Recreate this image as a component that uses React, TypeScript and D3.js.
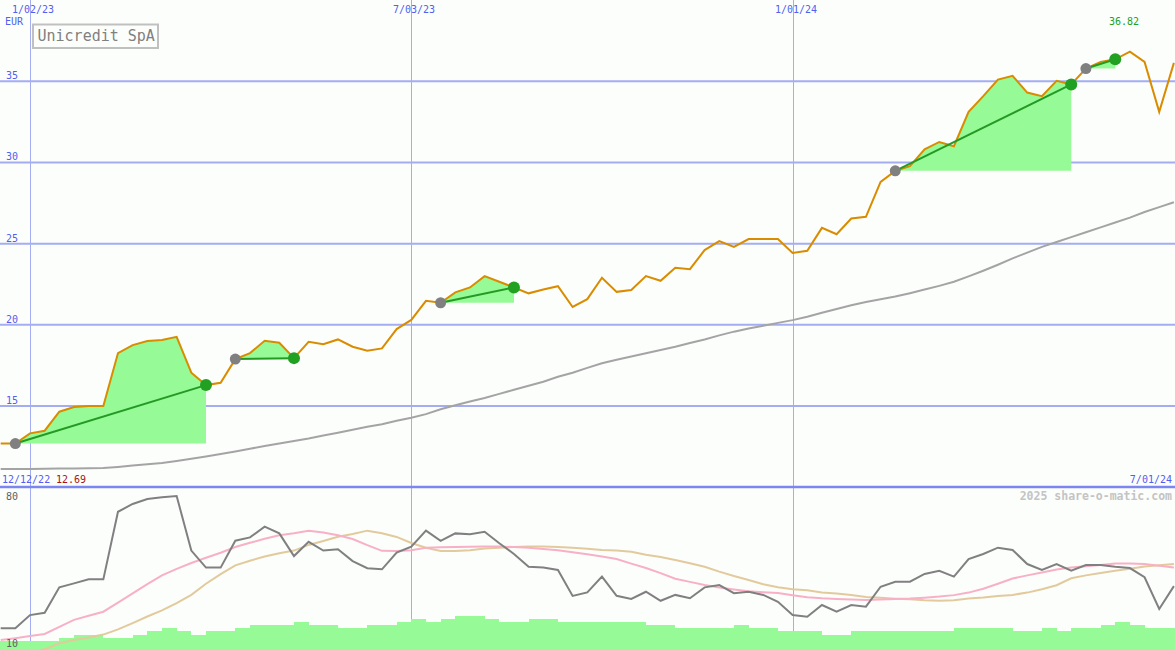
import React from 'react';
import * as d3 from 'd3';

const W = 1175;
const H = 650;

// Weekly sample dates (Mondays), 19 Dec 2022 .. 1 Jul 2024
const weeks: Date[] = d3.utcMonday.range(new Date(Date.UTC(2022, 11, 19)), new Date(Date.UTC(2024, 6, 2)));

// Weekly close (EUR)
const price = [
  12.69, 12.69, 13.32, 13.48, 14.65, 14.94, 15.0, 15.0, 18.26, 18.75,
  19.0, 19.06, 19.26, 17.05, 16.29, 16.43, 17.89, 18.26, 19.02, 18.9,
  17.95, 18.96, 18.8, 19.1, 18.65, 18.4, 18.55, 19.74, 20.3, 21.48,
  21.36, 22.0, 22.3, 23.0, 22.65, 22.3, 21.94, 22.18, 22.38, 21.1,
  21.58, 22.9, 22.03, 22.14, 23.0, 22.71, 23.51, 23.43, 24.6, 25.15,
  24.8, 25.28, 25.28, 25.28, 24.43, 24.56, 25.97, 25.58, 26.55, 26.65,
  28.8, 29.48, 29.77, 30.8, 31.26, 31.0, 33.11, 34.08, 35.1, 35.33,
  34.3, 34.08, 35.02, 34.8, 35.78, 36.19, 36.35, 36.82, 36.19, 33.11,
  36.13,
];

// Long moving average of price
const priceMA = [
  11.12, 11.12, 11.13, 11.14, 11.15, 11.16, 11.17, 11.18, 11.25, 11.34,
  11.42, 11.5, 11.62, 11.75, 11.9, 12.05, 12.2, 12.37, 12.54, 12.7,
  12.85, 13.0, 13.18, 13.36, 13.54, 13.72, 13.88, 14.1, 14.28, 14.5,
  14.8, 15.05, 15.28, 15.5, 15.75, 16.0, 16.25, 16.5, 16.8, 17.05,
  17.35, 17.63, 17.85, 18.05, 18.25, 18.45, 18.65, 18.88, 19.1, 19.35,
  19.58, 19.78, 19.95, 20.12, 20.29, 20.5, 20.74, 20.98, 21.2, 21.4,
  21.58, 21.74, 21.95, 22.17, 22.4, 22.65, 22.98, 23.33, 23.7, 24.09,
  24.45, 24.8, 25.1, 25.4, 25.7, 26.0, 26.3, 26.6, 26.95, 27.25,
  27.55,
];

// Weekly volume (millions)
const volume = [
  3.3, 3.3, 3.3, 3.3, 4.4, 5.5, 5.5, 4.4, 4.4, 5.5,
  7.0, 8.1, 7.0, 5.5, 7.0, 7.0, 8.1, 9.2, 9.2, 9.2,
  10.3, 9.2, 9.2, 8.1, 8.1, 9.2, 9.2, 10.3, 11.4, 10.3,
  11.4, 12.5, 12.5, 11.4, 10.3, 10.3, 11.4, 11.4, 10.3, 10.3,
  10.3, 10.3, 10.3, 10.3, 9.2, 9.2, 8.1, 8.1, 8.1, 8.1,
  9.2, 8.1, 8.1, 7.0, 7.0, 7.0, 5.5, 5.5, 7.0, 7.0,
  7.0, 7.0, 7.0, 7.0, 7.0, 8.1, 8.1, 8.1, 8.1, 7.0,
  7.0, 8.1, 7.0, 8.1, 8.1, 9.2, 10.3, 9.2, 8.1, 8.1,
  8.1,
];

// Oscillator and its two averages
const osc = [
  17.0, 17.0, 23.3, 24.4, 36.5, 38.4, 40.3, 40.3, 72.5, 76.2,
  78.6, 79.4, 80.0, 54.0, 45.9, 45.9, 58.7, 60.3, 65.4, 62.2,
  51.4, 58.2, 54.0, 54.6, 49.0, 45.6, 45.1, 53.0, 55.9, 63.5,
  58.6, 62.2, 61.8, 63.0, 57.5, 52.4, 46.3, 45.9, 44.8, 32.4,
  34.1, 41.6, 32.5, 31.0, 34.4, 30.1, 32.9, 31.3, 36.5, 37.6,
  33.7, 34.4, 32.9, 29.6, 23.3, 22.5, 28.1, 24.9, 28.1, 27.3,
  36.8, 39.2, 39.2, 42.9, 44.4, 41.6, 50.0, 52.4, 55.4, 54.3,
  47.6, 44.8, 47.6, 44.4, 47.1, 47.1, 46.3, 45.7, 41.3, 26.2,
  37.1,
];
const oscFast = [
  11.4, 12.3, 13.3, 14.3, 17.7, 21.0, 23.0, 24.9, 29.2, 33.6,
  38.0, 42.2, 45.3, 48.1, 50.6, 53.0, 55.7, 57.7, 59.6, 61.3,
  62.3, 63.5, 62.6, 61.3, 59.5, 56.6, 53.9, 53.8, 54.2, 55.3,
  55.6, 55.7, 55.8, 55.9, 55.9, 55.7, 55.3, 54.8, 54.2, 53.2,
  52.3, 51.2, 50.0, 47.8, 45.7, 43.3, 40.6, 39.1, 37.6, 36.4,
  35.5, 34.7, 34.2, 33.8, 32.7, 31.8, 31.3, 31.0, 30.7, 30.5,
  30.7, 31.0, 31.2, 31.6, 32.1, 32.8, 34.0, 35.8, 38.2, 40.7,
  42.2, 43.6, 45.0, 45.9, 46.6, 47.2, 47.9, 47.9, 47.6, 46.8,
  46.0,
];
const oscSlow = [
  3.0, 4.5, 5.5, 7.0, 9.9, 11.4, 12.6, 14.0, 16.5, 19.5,
  22.6, 25.5, 29.0, 32.9, 38.2, 42.8, 47.0, 49.2, 51.2, 52.7,
  54.0, 56.7, 58.6, 60.6, 61.9, 63.5, 62.3, 60.5, 57.6, 55.4,
  53.8, 53.8, 54.2, 55.0, 55.4, 55.7, 55.9, 55.9, 55.7, 55.3,
  54.9, 54.3, 54.0, 53.5, 52.0, 51.0, 49.5, 48.0, 46.3, 44.0,
  41.9, 40.0, 38.0, 36.6, 35.6, 35.1, 34.1, 33.6, 32.9, 31.9,
  31.5, 31.1, 30.8, 30.3, 30.1, 30.4, 31.2, 31.7, 32.4, 32.9,
  34.0, 35.6, 37.5, 40.8, 42.2, 43.3, 44.4, 45.4, 46.4, 47.0,
  47.6,
];

// Signal periods: [entry week index, exit week index]
const tradeStarts = [1, 16, 30, 61, 74];
const tradeEnds = [14, 20, 35, 73, 76];

const priceTicks = [15, 20, 25, 30, 35];
const oscTicks = [80, 10];
const dateTickDates = [Date.UTC(2023, 0, 2), Date.UTC(2023, 6, 3), Date.UTC(2024, 0, 1)];
const dateTickLabels = ['1/02/23', '7/03/23', '1/01/24'];
const title = 'Unicredit SpA';
const currency = 'EUR';
const startLabel = '12/12/22';
const endLabel = '7/01/24';
const credit = '2025 share-o-matic.com';

const MONO = '"DejaVu Sans Mono", "Liberation Mono", monospace';

export default function App() {
  const x = d3.scaleUtc()
    .domain([new Date(Date.UTC(2023, 0, 2)), new Date(Date.UTC(2024, 0, 1))])
    .range([30, 792.6]);
  const y = d3.scaleLinear().domain([10, 40]).range([487.25, 0]);
  const yo = d3.scaleLinear().domain([10, 80]).range([643, 496]);
  const yv = d3.scaleLinear().domain([0, 60]).range([650, 487]);

  const idx = d3.range(weeks.length);
  const xi = (i: number) => x(weeks[i]);

  const line = (vals: number[], ys: d3.ScaleLinear<number, number>) =>
    d3.line<number>().x((i) => xi(i)).y((i) => ys(vals[i]))(idx) || '';

  const minIdx = d3.minIndex(price);
  const maxIdx = d3.maxIndex(price);

  const weekW = x(weeks[1]) - x(weeks[0]);

  return (
    <svg width={W} height={H} style={{ position: 'absolute', left: 0, top: 0 }} fontFamily={MONO}>
      <defs>
        <clipPath id="top"><rect x={0} y={0} width={W} height={487} /></clipPath>
        <clipPath id="bot"><rect x={0} y={488} width={W} height={H - 488} /></clipPath>
      </defs>
      <rect x={0} y={0} width={W} height={H} fill="#fcfefc" />

      {/* lower panel: volume bars */}
      <g clipPath="url(#bot)">
        {dateTickDates.map((d, k) => (
          <line key={k} x1={Math.round(x(new Date(d))) + 0.5} x2={Math.round(x(new Date(d))) + 0.5}
            y1={488} y2={H} stroke="#a4acf2" strokeWidth={1} />
        ))}
        {volume.map((v, i) => {
          const x0 = i === 0 ? 0 : Math.round(xi(i));
          const x1 = Math.round(xi(i) + weekW);
          return (
            <rect key={i} x={x0} y={Math.round(yv(v))} width={x1 - x0} height={H - Math.round(yv(v))}
              fill="#96fa96" shapeRendering="crispEdges" />
          );
        })}
        <path d={line(oscSlow, yo)} fill="none" stroke="#e2ca9c" strokeWidth={2} />
        <path d={line(oscFast, yo)} fill="none" stroke="#f8b0c6" strokeWidth={2} />
        <path d={line(osc, yo)} fill="none" stroke="#808080" strokeWidth={2} />
      </g>
      {oscTicks.map((t) => (
        <text key={t} x={6} y={yo(t) + 4} fontSize={10} fill="#606060">{t}</text>
      ))}
      <text x={1172} y={500} fontSize={11.5} fontWeight="bold" fill="#c4c4c4" textAnchor="end">{credit}</text>

      {/* upper panel */}
      <g clipPath="url(#top)">
        {priceTicks.map((t) => (
          <line key={t} x1={0} x2={W} y1={y(t)} y2={y(t)} stroke="#a4acf2" strokeWidth={2} />
        ))}
        {dateTickDates.map((d, k) => (
          <line key={k} x1={Math.round(x(new Date(d))) + 0.5} x2={Math.round(x(new Date(d))) + 0.5}
            y1={0} y2={487} stroke="#a4acf2" strokeWidth={1} />
        ))}
        {tradeStarts.map((s, k) => {
          const e = tradeEnds[k];
          const area = d3.area<number>()
            .x((i) => xi(i))
            .y0(() => y(price[s]))
            .y1((i) => y(price[i]))(d3.range(s, e + 1)) || '';
          return <path key={k} d={area} fill="#96fa96" />;
        })}
        <path d={line(priceMA, y)} fill="none" stroke="#a4a4a4" strokeWidth={2} />
        <path d={line(price, y)} fill="none" stroke="#da8c00" strokeWidth={2} />
        {tradeStarts.map((s, k) => {
          const e = tradeEnds[k];
          return (
            <line key={k} x1={xi(s)} y1={y(price[s])} x2={xi(e)} y2={y(price[e])}
              stroke="#249a24" strokeWidth={2} />
          );
        })}
        {tradeStarts.map((s, k) => (
          <circle key={'s' + k} cx={xi(s)} cy={y(price[s])} r={5.5} fill="#808080" />
        ))}
        {tradeEnds.map((e, k) => (
          <circle key={'e' + k} cx={xi(e)} cy={y(price[e])} r={6} fill="#22a022" />
        ))}
      </g>
      <line x1={0} x2={W} y1={487} y2={487} stroke="#7c86f0" strokeWidth={2.5} />

      {priceTicks.map((t) => (
        <text key={t} x={6} y={y(t) - 2} fontSize={10} fill="#5060f0">{t}</text>
      ))}
      {dateTickDates.map((d, k) => (
        <text key={k} x={Math.round(x(new Date(d))) - 18} y={13} fontSize={10} fill="#5060f0">{dateTickLabels[k]}</text>
      ))}
      <text x={5} y={25} fontSize={10} fill="#5060f0">{currency}</text>

      <rect x={33} y={24.5} width={125} height={23.5} fill="#fcfefc" stroke="#c0c0c0" strokeWidth={2} />
      <text x={37.5} y={41} fontSize={15} fill="#808080">{title}</text>

      <text x={xi(maxIdx) - 21} y={25} fontSize={10} fill="#22a022">{price[maxIdx].toFixed(2)}</text>

      <text x={2} y={483} fontSize={10} fill="#5060f0">{startLabel}</text>
      <text x={56} y={483} fontSize={10} fill="#a01818">{price[minIdx].toFixed(2)}</text>
      <text x={1172} y={483} fontSize={10} fill="#5060f0" textAnchor="end">{endLabel}</text>
    </svg>
  );
}
